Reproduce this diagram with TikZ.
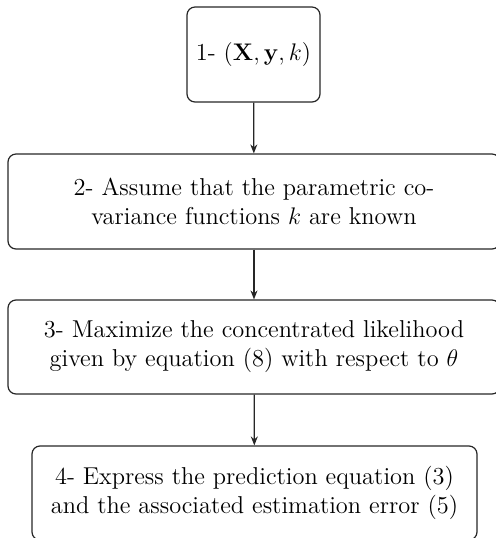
\documentclass[tikz,border=0pt]{standalone}
\usetikzlibrary{arrows.meta}
\begin{document}
\begin{tikzpicture}[x=0.5pt,y=-0.5pt,
  stepbox/.style={draw=black!85,line width=0.6pt,rounded corners=4pt,align=center,inner sep=0pt,font=\fontsize{12.2}{14.5}\selectfont},
  flow/.style={draw=black!85,line width=0.6pt,-{Stealth[length=4.5pt,width=3.5pt]}}]
\useasboundingbox (0,0) rectangle (495,538);
\node[stepbox,minimum width=66.5pt,minimum height=47.5pt] (b1) at (253.5,54.5) {1- $(\mathbf{X},\mathbf{y},k)$};
\node[stepbox,minimum width=246pt,minimum height=47.5pt] (b2) at (254,201.5) {2- Assume that the parametric co-\\variance functions $k$ are known};
\node[stepbox,minimum width=246pt,minimum height=47pt] (b3) at (254,347) {3- Maximize the concentrated likelihood\\given by equation (8) with respect to $\theta$};
\node[stepbox,minimum width=222.5pt,minimum height=47pt] (b4) at (254.5,493) {4- Express the prediction equation (3)\\and the associated estimation error (5)};
\draw[flow] (b1) -- (b2);
\draw[flow] (b2) -- (b3);
\draw[flow] (b3) -- (b4);
\end{tikzpicture}
\end{document}
